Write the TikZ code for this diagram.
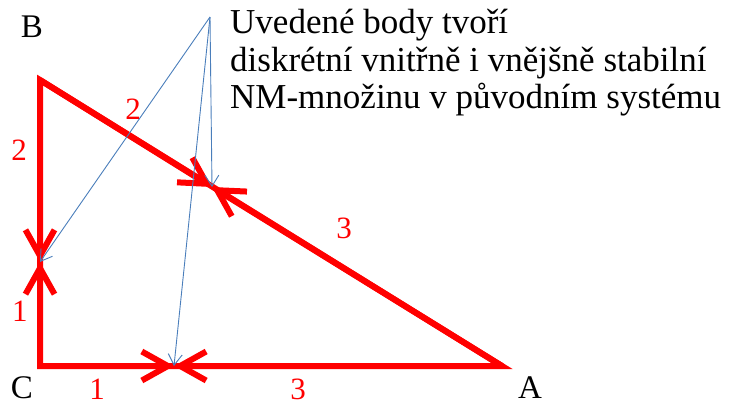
\documentclass[tikz,border=0pt]{standalone}
\usepackage{fontspec}
\setmainfont{Liberation Serif}
\usetikzlibrary{arrows.meta}
\definecolor{sidered}{RGB}{255,0,0}
\definecolor{hintblue}{RGB}{74,126,187}
\begin{document}
\begin{tikzpicture}[x=1pt, y=-1pt,
  rim/.style={draw=sidered, line width=6pt, line join=miter},
  side/.style={draw=sidered, line width=6pt, -{Straight Barb[length=26pt, width=29pt]}},
  hint/.style={draw=hintblue, line width=0.9pt, -{Straight Barb[length=11pt, width=14pt]}},
  vertex/.style={font=\fontsize{33}{33}\selectfont, inner sep=0pt},
  weight/.style={text=sidered, font=\fontsize{31}{31}\selectfont, inner sep=1pt},
  note/.style={anchor=base west, inner sep=0pt, font=\fontsize{35}{37}\selectfont}
]
\useasboundingbox (0,0) rectangle (730,405);
% corners and meeting points
\coordinate (B) at (40,80);
\coordinate (C) at (40,366);
\coordinate (A) at (502,366);
\coordinate (P) at (40,262);
\coordinate (Q) at (174,366);
\coordinate (R) at (212,187);
\coordinate (S) at (210,17);
% triangle
\draw[rim] (B) -- (C) -- (A) -- cycle;
\draw[side] (B) -- (P);
\draw[side] (C) -- (P);
\draw[side] (C) -- (Q);
\draw[side] (A) -- (Q);
\draw[side] (B) -- (R);
\draw[side] (A) -- (R);
% pointers from the note
\draw[hint] (S) -- (P);
\draw[hint] (S) -- (Q);
\draw[hint] (S) -- (R);
% labels
\node[vertex] (lB) at (32,27) {B};
\node[vertex] (lC) at (22,388) {C};
\node[vertex] (lA) at (530,388) {A};
\node[weight] (wBP) at (19,150) {2};
\node[weight] (wBR) at (133,109) {2};
\node[weight] (wAR) at (344,228) {3};
\node[weight] (wCP) at (20,311) {1};
\node[weight] (wCQ) at (97,389) {1};
\node[weight] (wAQ) at (298,389) {3};
\node[note] (t1) at (230,33) {Uvedené body tvoří};
\node[note] (t2) at (230,71) {diskrétní vnitřně i vnějšně stabilní};
\node[note] (t3) at (230,108) {NM-množinu v původním systému};
\end{tikzpicture}
\end{document}
